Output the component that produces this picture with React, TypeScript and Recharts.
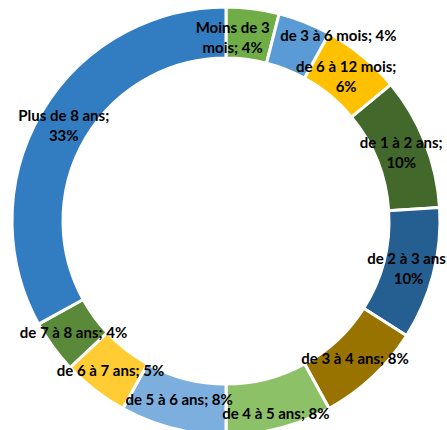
import { PieChart, Pie, Cell } from "recharts";

const categories = [
  "Moins de 3 mois",
  "de 3 à 6 mois",
  "de 6 à 12 mois",
  "de 1 à 2 ans",
  "de 2 à 3 ans",
  "de 3 à 4 ans",
  "de 4 à 5 ans",
  "de 5 à 6 ans",
  "de 6 à 7 ans",
  "de 7 à 8 ans",
  "Plus de 8 ans",
];

const shares = [4, 4, 6, 10, 10, 8, 8, 8, 5, 4, 33];

// how Excel wrapped each data label
const labelLines = [
  ["Moins de 3", "mois; 4%"],
  ["de 3 à 6 mois; 4%"],
  ["de 6 à 12 mois;", "6%"],
  ["de 1 à 2 ans;", "10%"],
  ["de 2 à 3 ans;", "10%"],
  ["de 3 à 4 ans; 8%"],
  ["de 4 à 5 ans; 8%"],
  ["de 5 à 6 ans; 8%"],
  ["de 6 à 7 ans; 5%"],
  ["de 7 à 8 ans; 4%"],
  ["Plus de 8 ans;", "33%"],
];

const colors = [
  "#70AD47",
  "#5B9BD5",
  "#FFC000",
  "#43682B",
  "#255E91",
  "#997300",
  "#8CC168",
  "#7CAFDD",
  "#FFCD33",
  "#5A8A39",
  "#327DC2",
];

// small manual nudges, like the labels Excel moved to avoid overlap
const nudge: Record<number, [number, number]> = {
  0: [-17, 3],
  1: [43, -11],
  6: [3, 9],
  7: [0, -5],
};

const data = categories.map((name, i) => ({ name, value: shares[i] }));

const RADIAN = Math.PI / 180;

function renderLabel(props: any) {
  const { cx, cy, midAngle, innerRadius, outerRadius, index } = props;
  const r = (innerRadius + outerRadius) / 2;
  const [dx, dy] = nudge[index] || [0, 0];
  const x = cx + r * Math.cos(-midAngle * RADIAN) + dx;
  const y = cy + r * Math.sin(-midAngle * RADIAN) + dy;
  const lines = labelLines[index];
  const lh = 20;
  const top = y - ((lines.length - 1) * lh) / 2;
  return (
    <text
      x={x}
      y={top}
      textAnchor="middle"
      dominantBaseline="central"
      fill="#000"
      fontFamily="Lato, 'Open Sans', sans-serif"
      fontWeight="bold"
      fontSize={15}
    >
      {lines.map((l, i) => (
        <tspan key={i} x={x} dy={i === 0 ? 0 : lh}>
          {l}
        </tspan>
      ))}
    </text>
  );
}

export default function App() {
  return (
    <div style={{ position: "fixed", left: 0, top: 0, width: 447, height: 430, background: "#fff" }}>
      <PieChart width={447} height={430} margin={{ top: 0, right: 0, bottom: 0, left: 0 }}>
        <Pie
          data={data}
          dataKey="value"
          nameKey="name"
          cx={226}
          cy={221}
          outerRadius={214}
          innerRadius={163}
          startAngle={90}
          endAngle={-270}
          stroke="#fff"
          strokeWidth={3}
          label={renderLabel}
          labelLine={false}
          isAnimationActive={false}
        >
          {data.map((d, i) => (
            <Cell key={d.name} fill={colors[i]} />
          ))}
        </Pie>
      </PieChart>
    </div>
  );
}
